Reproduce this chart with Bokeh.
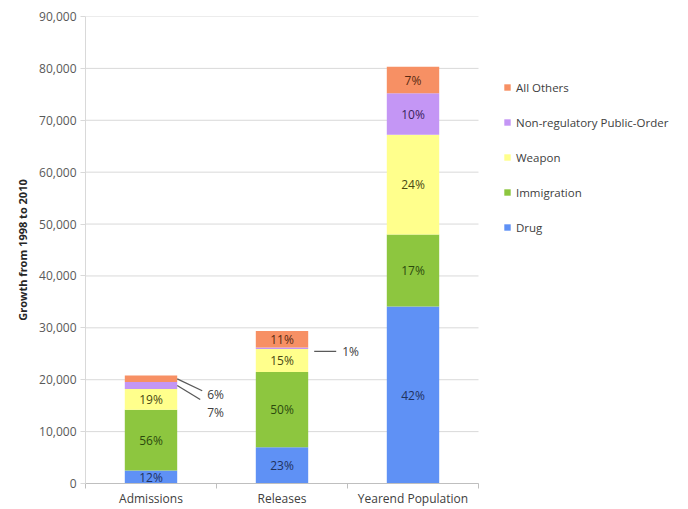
import numpy as np
from bokeh.plotting import figure
from bokeh.models import (ColumnDataSource, FixedTicker, NumeralTickFormatter, Legend,
                          LegendItem, Range1d, Label)
from bokeh.core.properties import value
from bokeh.embed import file_html
from bokeh.resources import INLINE

# ---------------- data ----------------
categories = ["Admissions", "Releases", "Yearend Population"]
series = ["Drug", "Immigration", "Weapon", "Non-regulatory Public-Order", "All Others"]
drug = [2500, 7000, 34100]
immigration = [11700, 14500, 13900]
weapon = [4000, 4400, 19200]
nonreg = [1350, 300, 8000]
others = [1250, 3200, 5100]
drug_pct = ["12%", "23%", "42%"]
immigration_pct = ["56%", "50%", "17%"]
weapon_pct = ["19%", "15%", "24%"]
nonreg_pct = ["7%", "1%", "10%"]
others_pct = ["6%", "11%", "7%"]
y_ticks = [0, 10000, 20000, 30000, 40000, 50000, 60000, 70000, 80000, 90000]
y_max = 90000

values = [drug, immigration, weapon, nonreg, others]
pcts = [drug_pct, immigration_pct, weapon_pct, nonreg_pct, others_pct]

# ---------------- style ----------------
FONT = "Open Sans"
FS = "12px"
fills = ["#5f91f5", "#8dc63f", "#ffff8c", "#c496f5", "#f79064"]
txt_colors = ["#1f3260", "#2c4a0e", "#4a4a14", "#3a1f5c", "#5a2a12"]
# labels drawn outside the bar: (category index, series index, line start px, line end (dx,dy) px, label (dx,dy) px)
callouts = [
    (0, 4, 0, (25, -12), (30, -16)),
    (0, 3, 0, (23, -14), (30, -27)),
    (1, 3, 6, (28, -3), (34, -3)),
]

W, H = 688, 509
BL, BR, BT, BB = 85, 0, 16, 24
PLOT_W = 393                      # width of the bar area in px
frame_w = W - BL - BR
frame_h = H - BT - BB
n = len(categories)
x_lo, x_hi = 0.5, n + 0.5
x_end = x_lo + n * frame_w / PLOT_W   # extra room on the right holds the legend

xs = np.arange(n) + 1.0
bar_w = 0.4

p = figure(width=W, height=H, x_range=Range1d(x_lo, x_end),
           y_range=Range1d(0, y_max), output_backend="svg", toolbar_location=None,
           min_border_left=BL, min_border_right=BR, min_border_top=BT, min_border_bottom=BB)
p.outline_line_color = None
p.background_fill_color = "white"
p.border_fill_color = "white"
p.xgrid.visible = False
p.ygrid.visible = False

# gridlines limited to the bar area
p.segment(x0=[x_lo] * len(y_ticks), x1=[x_hi] * len(y_ticks), y0=y_ticks, y1=y_ticks,
          line_color="#d9d9d9", line_width=1)

# y axis
p.yaxis.ticker = FixedTicker(ticks=y_ticks)
p.yaxis.formatter = NumeralTickFormatter(format="0,0")
p.yaxis.axis_line_color = "#d9d9d9"
p.yaxis.major_tick_line_color = "#d9d9d9"
p.yaxis.major_tick_out = 5
p.yaxis.major_tick_in = 0
p.yaxis.minor_tick_line_color = None
p.yaxis.major_label_text_font = FONT
p.yaxis.major_label_text_font_size = FS
p.yaxis.major_label_text_color = "#595959"
p.yaxis.major_label_standoff = 4
p.yaxis.axis_label = "Growth from 1998 to 2010"
p.yaxis.axis_label_text_font = FONT
p.yaxis.axis_label_text_font_size = "11px"
p.yaxis.axis_label_text_font_style = "bold"
p.yaxis.axis_label_text_color = "#262626"
p.yaxis.axis_label_standoff = 6

# x axis
p.xaxis.bounds = (x_lo, x_hi)
p.xaxis.ticker = FixedTicker(ticks=list(xs), minor_ticks=list(np.arange(n + 1) + 0.5))
p.xaxis.major_label_overrides = {int(x): c for x, c in zip(xs, categories)}
p.xaxis.axis_line_color = "#bfbfbf"
p.xaxis.major_tick_line_color = None
p.xaxis.major_tick_out = 0
p.xaxis.minor_tick_line_color = "#bfbfbf"
p.xaxis.minor_tick_out = 5
p.xaxis.minor_tick_in = 0
p.xaxis.major_label_text_font = FONT
p.xaxis.major_label_text_font_size = FS
p.xaxis.major_label_text_color = "#404040"
p.xaxis.major_label_standoff = 1

# stacked bars
bottom = np.zeros(n)
renderers = []
mids = []
for i, (vals, name) in enumerate(zip(values, series)):
    v = np.array(vals, dtype=float)
    top = bottom + v
    r = p.vbar(x=xs, width=bar_w, bottom=bottom, top=top, fill_color=fills[i], line_color=None)
    renderers.append(r)
    mids.append((bottom + top) / 2)
    bottom = top

outside = {(c, s) for c, s, *_ in callouts}
for i in range(len(series)):
    idx = [j for j in range(n) if (j, i) not in outside]
    src = ColumnDataSource(dict(x=xs[idx], y=mids[i][idx], t=[pcts[i][j] for j in idx]))
    p.text(x="x", y="y", text="t", source=src, text_align="center", text_baseline="middle",
           text_font=value(FONT), text_font_size=FS, text_color=txt_colors[i])

# callouts
dxu = n / PLOT_W
dyu = y_max / frame_h
for c, s, start_px, (lx, ly), (tx, ty) in callouts:
    x0 = xs[c] + bar_w / 2 + start_px * dxu
    y0 = mids[s][c]
    ys = y0 + (ly if start_px else 0) * dyu
    p.segment(x0=[x0], y0=[ys], x1=[xs[c] + bar_w / 2 + lx * dxu], y1=[y0 + ly * dyu],
              line_color="#595959", line_width=1.3)
    p.add_layout(Label(x=xs[c] + bar_w / 2 + tx * dxu, y=y0 + ty * dyu, text=pcts[s][c],
                       text_font=FONT, text_font_size=FS, text_color="#404040",
                       text_align="left", text_baseline="middle"))

# legend in the free area right of the bars
items = [LegendItem(label=series[i], renderers=[renderers[i]]) for i in reversed(range(len(series)))]
legend = Legend(items=items, location=(PLOT_W + 25, frame_h - 63 - 160))
legend.border_line_color = None
legend.background_fill_alpha = 0
legend.padding = 0
legend.margin = 0
legend.spacing = 15
legend.label_height = 20
legend.glyph_height = 8
legend.glyph_width = 8
legend.label_standoff = 5
legend.label_text_font = FONT
legend.label_text_font_size = "11.5px"
legend.label_text_color = "#404040"
p.add_layout(legend)

open("out.html", "w").write(file_html(p, INLINE))
